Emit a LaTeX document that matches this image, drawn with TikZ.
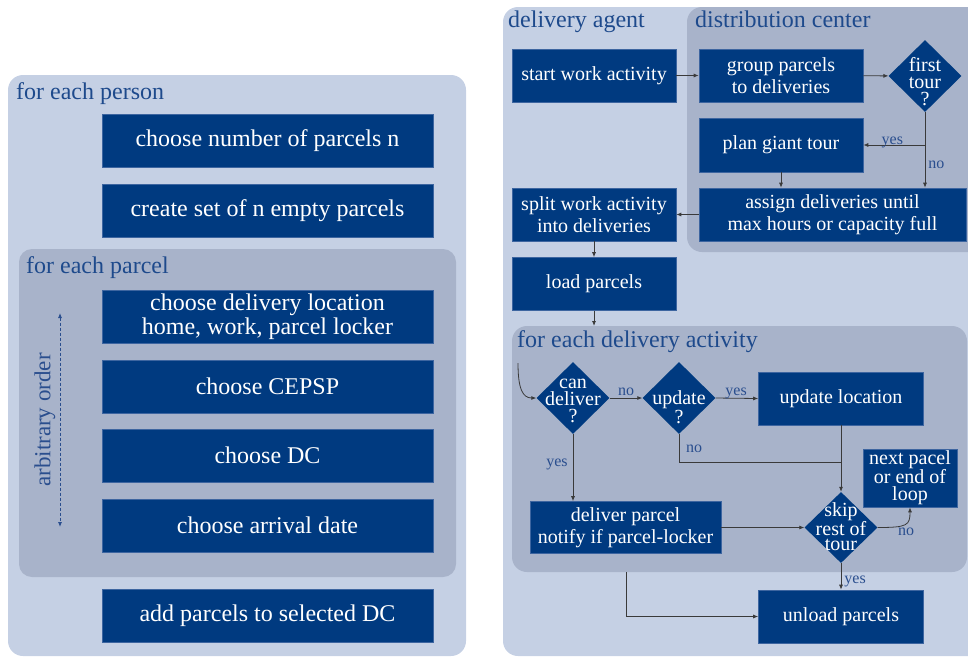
\documentclass[tikz,border=0pt]{standalone}
\usepackage{fontspec}
\setmainfont{Liberation Serif}
\usetikzlibrary{arrows.meta,shapes.geometric}

\definecolor{panelA}{HTML}{C5D0E4}
\definecolor{panelB}{HTML}{A8B3CA}
\definecolor{boxblue}{HTML}{003A80}
\definecolor{boxedge}{HTML}{3D65A0}
\definecolor{titleblue}{HTML}{1E4A8C}
\definecolor{lblblue}{HTML}{2A4E8E}
\definecolor{linegray}{HTML}{3A3A3A}

\tikzset{
  box/.style={rectangle, fill=boxblue, draw=boxedge, line width=0.6pt,
    text=white, align=center, inner sep=0pt,
    font=\fontsize{24}{24}\selectfont},
  rbox/.style={box, font=\fontsize{20}{22.5}\selectfont},
  smallbox/.style={box, font=\fontsize{20}{17}\selectfont},
  dia/.style={diamond, fill=boxblue, inner sep=0pt, aspect=1,
    minimum width=73pt, minimum height=72pt},
  diatext/.style={text=white, align=center, inner sep=0pt,
    font=\fontsize{20}{17}\selectfont},
  paneltitle/.style={text=titleblue, inner sep=0pt,
    font=\fontsize{24}{26}\selectfont},
  lbl/.style={text=lblblue, inner sep=0pt, font=\fontsize{16}{18}\selectfont},
  arr/.style={draw=linegray, line width=0.8pt,
    -{Latex[length=5pt,width=4pt]}},
}

\begin{document}
\begin{tikzpicture}[x=1pt,y=-1pt]
\useasboundingbox (0,0) rectangle (968,657);

% ---------- left panel: parcel generation ----------
\fill[panelA, rounded corners=15pt] (8,75) rectangle (466,656);
\fill[panelB, rounded corners=13pt] (19,249) rectangle (456,577);
\node[paneltitle, anchor=base west] (tperson) at (16,99) {for each person};
\node[paneltitle, anchor=base west] (tparcel) at (26,273) {for each parcel};

\node[box, minimum width=331pt, minimum height=53pt] (nparcels) at (267.5,140.5) {choose number of parcels n};
\node[box, minimum width=331pt, minimum height=53pt] (emptyset) at (267.5,210.5) {create set of n empty parcels};
\node[box, minimum width=331pt, minimum height=53pt] (location) at (267.5,316.5) {choose delivery location\\home, work, parcel locker};
\node[box, minimum width=331pt, minimum height=53pt] (cepsp) at (267.5,386.5) {choose CEPSP};
\node[box, minimum width=331pt, minimum height=53pt] (dc) at (267.5,455.5) {choose DC};
\node[box, minimum width=331pt, minimum height=53pt] (arrival) at (267.5,525.5) {choose arrival date};
\node[box, minimum width=331pt, minimum height=53pt] (addparcels) at (267.5,615.5) {add parcels to selected DC};

\coordinate (ordtop) at (60,313);
\coordinate (ordbot) at (60,527);
\draw[lblblue, line width=0.8pt, dash pattern=on 3pt off 2pt, {Latex[length=5pt,width=4pt]}-{Latex[length=5pt,width=4pt]}] (ordtop) -- (ordbot);
\node[lbl, rotate=90, font=\fontsize{23}{25}\selectfont] (order) at (45,420) {arbitrary order};

% ---------- right panel: delivery agent ----------
\fill[panelA, rounded corners=15pt] (503,7) rectangle (990,656);
\fill[panelB, rounded corners=15pt] (687,7) rectangle (990,252);
\fill[panelB, rounded corners=15pt] (512,326) rectangle (967,572);
\node[paneltitle, anchor=base west] (tagent) at (508,27) {delivery agent};
\node[paneltitle, anchor=base west] (tdc) at (695,27) {distribution center};
\node[paneltitle, anchor=base west] (tloop) at (517,347) {for each delivery activity};

\node[rbox, minimum width=164pt, minimum height=53pt] (start) at (594,75.5) {start work activity};
\node[rbox, minimum width=164pt, minimum height=53pt] (group) at (781,75.5) {group parcels\\to deliveries};
\node[dia] (first) at (925,76) {};
\node[diatext] (firsttxt) at ([yshift=-6pt]first.center) {first\\tour\\?};
\node[rbox, minimum width=164pt, minimum height=54pt] (plan) at (781,145) {plan giant tour};
\node[rbox, minimum width=267pt, minimum height=53pt] (assign) at (832.5,214.5) {assign deliveries until\\max hours or capacity full};
\node[rbox, minimum width=164pt, minimum height=53pt] (split) at (594,214.5) {split work activity\\into deliveries};
\node[rbox, minimum width=164pt, minimum height=53pt] (load) at (594,284) {load parcels};

\node[dia] (can) at (573,398) {};
\node[diatext] (cantxt) at ([yshift=-3pt]can.center) {can\\deliver\\?};
\node[dia] (upd) at (679,398) {};
\node[diatext] (updtxt) at ([yshift=-9pt]upd.center) {update\\?};
\node[rbox, minimum width=165pt, minimum height=53pt] (updloc) at (841,398.5) {update location};
\node[smallbox, minimum width=94pt, minimum height=58pt] (next) at (910,478) {next pacel\\or end of\\loop};
\node[dia, minimum height=71pt] (skip) at (841,527.5) {};
\node[diatext, font=\fontsize{20}{14.5}\selectfont] (skiptxt) at ([yshift=1pt]skip.center) {skip\\rest of\\tour};
\node[rbox, minimum width=191pt, minimum height=52pt] (deliver) at (625.5,527.5) {deliver parcel\\notify if parcel-locker};
\node[rbox, minimum width=165pt, minimum height=53pt] (unload) at (841,616.5) {unload parcels};

% ---------- connectors ----------
\coordinate (looptop) at (594,326);
\coordinate (loopin) at (518,363);
\coordinate (loopout) at (626,572);
\coordinate (updjoin) at (841,462);

\draw[arr] (start) -- (group);
\draw[arr] (group) -- (first);
\draw[arr] (first.south) -- (first.south |- assign.north)
  node[lbl, anchor=base west, pos=0.75, xshift=3pt] {no};
\draw[arr] (first.south |- plan.east) -- (plan.east)
  node[lbl, anchor=base, pos=0.53, yshift=1pt] {yes};
\draw[arr] (plan.south) -- (plan.south |- assign.north);
\draw[arr] (assign.west) -- (split.east);
\draw[arr] (split) -- (load);
\draw[arr] (load) -- (looptop);

\draw[arr] (loopin) .. controls +(0,25) and +(-14,0) .. (can.west);
\draw[arr] (can.east) -- (upd.west)
  node[lbl, anchor=base, midway, yshift=2.5pt] {no};
\draw[arr] (upd.east) -- (updloc.west)
  node[lbl, anchor=base, pos=0.48, yshift=3pt] {yes};
\draw[line width=0.8pt, linegray] (upd.south) |- (updjoin);
\node[lbl, anchor=base west] (updno) at (686,452) {no};
\draw[arr] (updloc.south) -- (skip.north);
\draw[arr] (can.south) -- (can.south |- deliver.north)
  node[lbl, anchor=base east, pos=0.48, xshift=-5pt] {yes};
\draw[arr] (deliver.east) -- (skip.west);
\draw[arr] (skip.east) .. controls +(30,0) and +(0,18) .. (next.south);
\node[lbl, anchor=base] (skipno) at (906,535) {no};
\draw[arr] (skip.south) -- (unload.north)
  node[lbl, anchor=base west, pos=0.78, xshift=3pt] {yes};
\draw[arr] (loopout) |- (unload.west);

\end{tikzpicture}
\end{document}
